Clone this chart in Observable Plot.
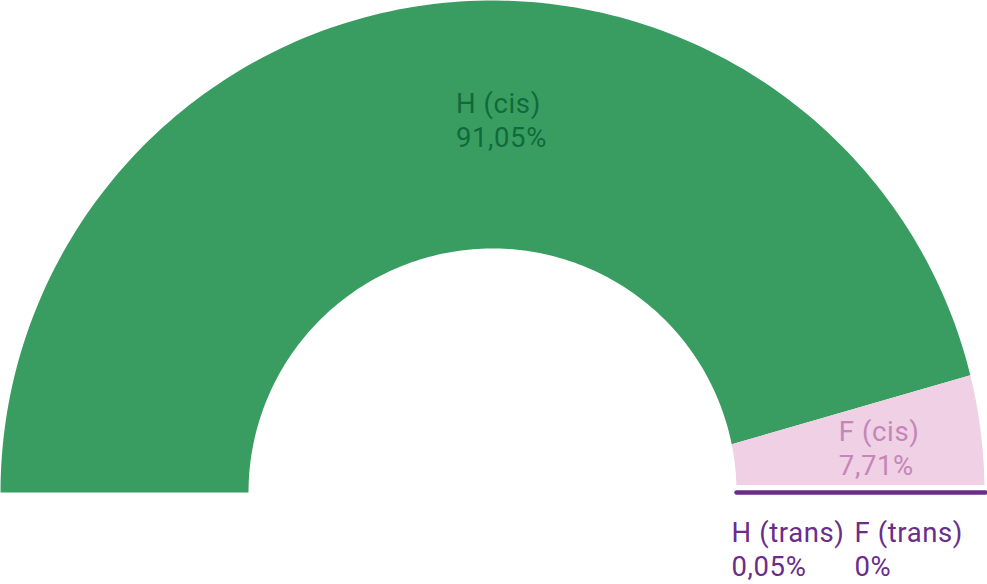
<!DOCTYPE html>
<html><head><meta charset="utf-8">
<script src="https://cdn.jsdelivr.net/npm/d3@7"></script>
<script src="https://cdn.jsdelivr.net/npm/@observablehq/plot@0.6"></script>
<style>body{margin:0;background:#fff}svg{display:block}svg text{letter-spacing:0.6px}</style>
</head><body><div id="chart"></div>
<script>
const categories = ["H (cis)", "F (cis)", "H (trans)", "F (trans)"];
const values = [91.05, 7.71, 0.05, 0];
const valueLabels = ["91,05%", "7,71%", "0,05%", "0%"];
const fillColors = ["#399d62", "#efd0e4", "#6a2d8a", "#6a2d8a"];
const textColors = ["#106b3a", "#c486b9", "#6a2d8a", "#6a2d8a"];

const W = 987, H = 584;
const rOut = 492, rIn = 244;
const cx = 492, cy = 492;
const pad = 20;       // edge offset between the two cis slices
const basePad = 7.5;  // gap above the trans baseline

const ang = d3.scaleLinear().domain([0, 100]).range([Math.PI, 0]);
const cum = d3.cumsum(values);
const bAng = ang(cum[0]); // boundary between H (cis) and F (cis)
const edgeAngle = r => bAng - Math.asin(pad / r);
const baseAngle = r => Math.asin(basePad / r);

function arcPts(r, a0, a1, n = 160) {
  const pts = [];
  for (let i = 0; i <= n; i++) {
    const a = a0 + (a1 - a0) * i / n;
    pts.push({x: r * Math.cos(a), y: r * Math.sin(a)});
  }
  return pts;
}
const greenPoly = [...arcPts(rOut, Math.PI, edgeAngle(rOut)), ...arcPts(rIn, edgeAngle(rIn), Math.PI)];
const pinkPoly = [...arcPts(rOut, edgeAngle(rOut), baseAngle(rOut)), ...arcPts(rIn, baseAngle(rIn), edgeAngle(rIn))];
const transLine = [{x: rIn, y: 0}, {x: rOut + 1, y: 0}];

// label anchors from slice centroids
const rMid = (rOut + rIn) / 2;
const midG = (ang(0) + bAng) / 2, midP = (bAng + 0) / 2;
const labels = [
  {x: rMid * Math.cos(midG), y: rMid * Math.sin(midG), dx: 15, dy: -9, i: 0},
  {x: rMid * Math.cos(midP), y: rMid * Math.sin(midP), dx: -18, dy: 6, i: 1},
  {x: rIn - 5, y: -59.5, dx: 0, dy: -4, i: 2},
  {x: rIn - 5 + 123, y: -59.5, dx: 0, dy: -4, i: 3}
];

const chart = Plot.plot({
  width: W, height: H,
  margin: 0,
  x: {domain: [-cx, W - cx], axis: null},
  y: {domain: [cy - H, cy], axis: null},
  marks: [
    Plot.line(greenPoly, {x: "x", y: "y", fill: fillColors[0], stroke: "none", curve: "linear-closed"}),
    Plot.line(pinkPoly, {x: "x", y: "y", fill: fillColors[1], stroke: "none", curve: "linear-closed"}),
    Plot.line(transLine, {x: "x", y: "y", stroke: fillColors[2], strokeWidth: 4.5}),
    ...labels.map(l => Plot.text([l], {
      x: "x", y: "y", dx: l.dx, dy: l.dy,
      text: d => categories[d.i] + "\n" + valueLabels[d.i],
      textAnchor: "start", lineAnchor: "middle", lineHeight: 1.23,
      fill: textColors[l.i], fontSize: 27.5, fontFamily: "Roboto"
    }))
  ]
});
document.getElementById("chart").append(chart);
</script></body></html>
